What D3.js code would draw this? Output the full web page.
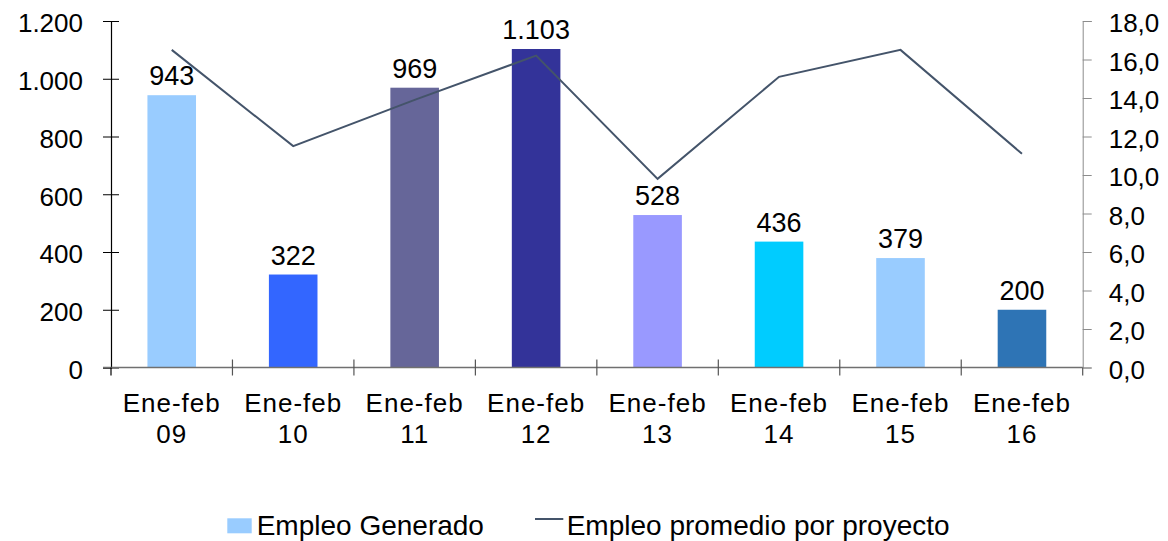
<!DOCTYPE html>
<html><head><meta charset="utf-8">
<script src="https://cdn.jsdelivr.net/npm/d3@7/dist/d3.min.js"></script>
<style>
html,body{margin:0;padding:0;background:#fff;}
svg{display:block;font-family:"Liberation Sans",Arial,sans-serif;}
</style></head>
<body>
<svg id="chart" width="1168" height="541"></svg>
<script>
const categories = ["Ene-feb 09","Ene-feb 10","Ene-feb 11","Ene-feb 12","Ene-feb 13","Ene-feb 14","Ene-feb 15","Ene-feb 16"];
const empleoGenerado = [943, 322, 969, 1103, 528, 436, 379, 200];
const empleoPromedio = [16.5, 11.5, 13.9, 16.2, 9.8, 15.1, 16.5, 11.1];
const leftTicks = [0, 200, 400, 600, 800, 1000, 1200];
const rightTicks = [0, 2, 4, 6, 8, 10, 12, 14, 16, 18];
const seriesNames = ["Empleo Generado", "Empleo promedio por proyecto"];

const barColors = ["#99CCFF","#3366FF","#666699","#333399","#9999FF","#00CCFF","#99CCFF","#2E74B5"];
const lineColor = "#44546A";

const svg = d3.select("#chart");
const x0 = 111, x1 = 1082.7, yTop = 21, yBot = 367.5;

const x = d3.scaleBand().domain(categories).range([x0, x1]).paddingInner(0.6).paddingOuter(0.3);
const yL = d3.scaleLinear().domain([0, 1200]).range([yBot, yTop]);
const yR = d3.scaleLinear().domain([0, 18]).range([yBot, yTop]);

const fmtL = v => d3.format(",")(v).replace(/,/g, ".");
const fmtR = v => d3.format(".1f")(v).replace(".", ",");

// bars
svg.append("g").selectAll("rect").data(empleoGenerado).join("rect")
  .attr("x", (d,i) => x(categories[i]))
  .attr("width", x.bandwidth())
  .attr("y", d => yL(d))
  .attr("height", d => yBot - yL(d))
  .attr("fill", (d,i) => barColors[i]);

// left axis
const gL = svg.append("g").attr("transform", `translate(${x0},0)`)
  .call(d3.axisLeft(yL).tickValues(leftTicks).tickFormat(fmtL).tickSize(8).tickPadding(20));
gL.select(".domain").attr("stroke", "#000").attr("stroke-width", 1.2);
gL.selectAll(".tick line").attr("stroke", "#000").attr("x2", 8).attr("x1", -8);
gL.selectAll(".tick text").attr("font-size", 26).attr("font-family", "Liberation Sans, Arial, sans-serif").attr("fill", "#000").attr("dy", "0.42em");

// right axis
const gR = svg.append("g").attr("transform", `translate(${x1},0)`)
  .call(d3.axisRight(yR).tickValues(rightTicks).tickFormat(fmtR).tickSize(9).tickPadding(17));
gR.select(".domain").attr("stroke", "#8c8c8c");
gR.selectAll(".tick line").attr("stroke", "#8c8c8c");
gR.selectAll(".tick text").attr("font-size", 26).attr("font-family", "Liberation Sans, Arial, sans-serif").attr("fill", "#000").attr("dy", "0.42em");

// bottom axis
const step = x.step();
const seps = d3.range(categories.length + 1).map(i => x0 + i * step);
const gB = svg.append("g");
gB.append("line").attr("x1", x0 - 8).attr("x2", x1).attr("y1", yBot).attr("y2", yBot)
  .attr("stroke", "#707070").attr("stroke-width", 1.5);
gB.selectAll("line.sep").data(seps.slice(1)).join("line").attr("class", "sep")
  .attr("x1", d => d).attr("x2", d => d)
  .attr("y1", (d,i) => i === seps.length - 2 ? yBot : yBot - 8).attr("y2", yBot + 8)
  .attr("stroke", "#555").attr("stroke-width", 1.2);
gB.append("line").attr("x1", x0).attr("x2", x0).attr("y1", yBot).attr("y2", yBot + 8)
  .attr("stroke", "#000").attr("stroke-width", 1.2);

// category labels
const lab = svg.append("g").selectAll("text").data(categories).join("text")
  .attr("text-anchor", "middle")
  .attr("font-size", 26)
  .attr("letter-spacing", 1)
  .attr("fill", "#000");
lab.append("tspan").attr("x", d => x(d) + x.bandwidth()/2).attr("y", 411.7).text(d => d.split(" ")[0]);
lab.append("tspan").attr("x", d => x(d) + x.bandwidth()/2).attr("y", 443.3).text(d => d.split(" ")[1]);

// line
const line = d3.line().x((d,i) => x(categories[i]) + x.bandwidth()/2).y(d => yR(d));
svg.append("path").datum(empleoPromedio).attr("d", line)
  .attr("fill", "none").attr("stroke", lineColor).attr("stroke-width", 2);

// value labels
svg.append("g").selectAll("text").data(empleoGenerado).join("text")
  .attr("x", (d,i) => x(categories[i]) + x.bandwidth()/2)
  .attr("y", d => yL(d) - 10)
  .attr("text-anchor", "middle")
  .attr("font-size", 27)
  .attr("fill", "#000")
  .text(d => fmtL(d));

// legend
const lg = svg.append("g");
lg.append("rect").attr("x", 227.3).attr("y", 518.3).attr("width", 24.4).attr("height", 15).attr("fill", barColors[0]);
lg.append("text").attr("x", 256.7).attr("y", 535).attr("font-size", 28).attr("fill", "#000").text(seriesNames[0]);
lg.append("line").attr("x1", 535).attr("x2", 563.3).attr("y1", 519).attr("y2", 519).attr("stroke", lineColor).attr("stroke-width", 2);
lg.append("text").attr("x", 566.7).attr("y", 535).attr("font-size", 28).attr("fill", "#000").text(seriesNames[1]);
</script>
</body></html>
